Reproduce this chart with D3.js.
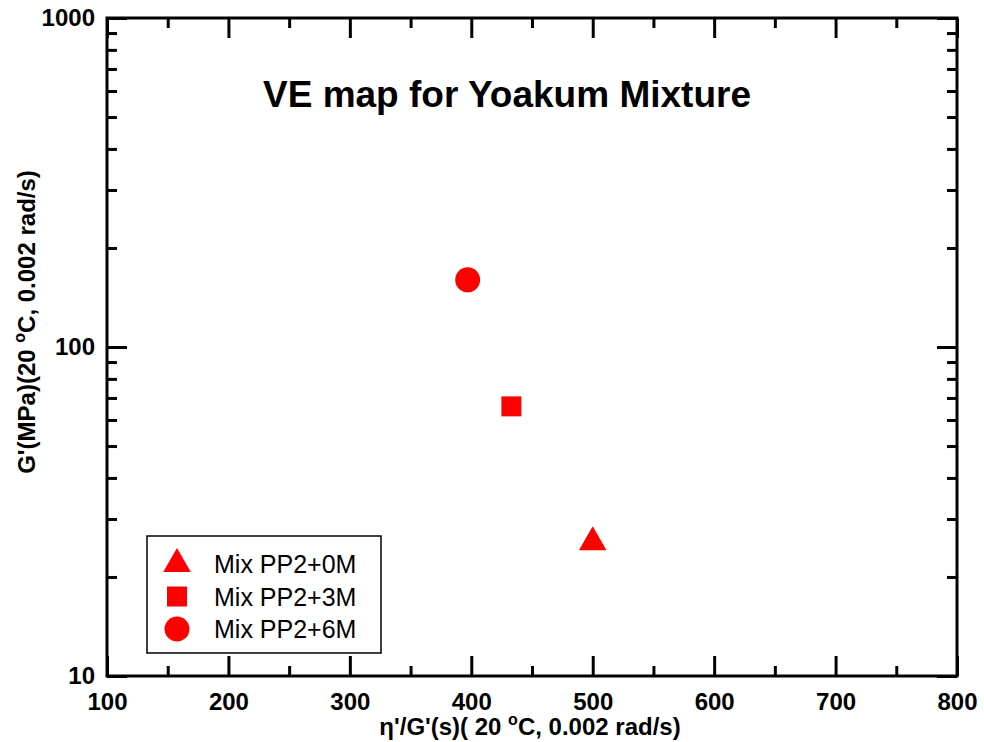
<!DOCTYPE html>
<html>
<head>
<meta charset="utf-8">
<script src="https://cdn.jsdelivr.net/npm/d3@7"></script>
<style>
  body { margin: 0; background: #fff; }
  text { font-family: "Liberation Sans", Arial, sans-serif; }
</style>
</head>
<body>
<div id="chart"></div>
<script>
// data
let series = ["Mix PP2+0M", "Mix PP2+3M", "Mix PP2+6M"];
let relaxTime = [500, 433, 397];      // eta'/G' (s)
let modulus = [25.5, 66, 160];        // G' (MPa)
let xTicks = [100, 200, 300, 400, 500, 600, 700, 800];
let xMinor = [150, 250, 350, 450, 550, 650, 750];
let yTicks = [10, 100, 1000];
let yMinor = [20, 30, 40, 50, 60, 70, 80, 90, 200, 300, 400, 500, 600, 700, 800, 900];

(function () {
    let width = 984, height = 742;
    let m = {left: 107, top: 18, right: 27, bottom: 66};
    let w = width - m.left - m.right, h = height - m.top - m.bottom;
    let svg = d3.select("#chart").append("svg")
        .attr("width", width)
        .attr("height", height);
    let g = svg.append("g").attr("transform", `translate(${m.left},${m.top})`);

    let x = d3.scaleLinear().domain([100, 800]).range([0, w]);
    let y = d3.scaleLog().domain([10, 1000]).range([h, 0]);

    function style(sel, labels) {
        sel.select(".domain").remove();
        sel.selectAll("line").attr("stroke", "#000").attr("stroke-width", 3);
        if (labels) {
            sel.selectAll("text").attr("fill", "#000")
                .attr("font-size", "24px").attr("font-weight", "bold");
        } else {
            sel.selectAll("text").remove();
        }
    }

    // bottom + top
    g.append("g").attr("transform", `translate(0,${h})`)
        .call(d3.axisBottom(x).tickValues(xTicks).tickSize(-20).tickPadding(17).tickFormat(d3.format("d")))
        .call(s => style(s, true));
    g.append("g").attr("transform", `translate(0,${h})`)
        .call(d3.axisBottom(x).tickValues(xMinor).tickSize(-10))
        .call(s => style(s, false));
    g.append("g")
        .call(d3.axisTop(x).tickValues(xTicks).tickSize(-20))
        .call(s => style(s, false));
    g.append("g")
        .call(d3.axisTop(x).tickValues(xMinor).tickSize(-10))
        .call(s => style(s, false));

    // left + right
    g.append("g")
        .call(d3.axisLeft(y).tickValues(yTicks).tickSize(-20).tickPadding(12).tickFormat(d3.format("d")))
        .call(s => style(s, true));
    g.append("g")
        .call(d3.axisLeft(y).tickValues(yMinor).tickSize(-10))
        .call(s => style(s, false));
    g.append("g").attr("transform", `translate(${w},0)`)
        .call(d3.axisRight(y).tickValues(yTicks).tickSize(-20))
        .call(s => style(s, false));
    g.append("g").attr("transform", `translate(${w},0)`)
        .call(d3.axisRight(y).tickValues(yMinor).tickSize(-10))
        .call(s => style(s, false));

    g.append("rect")
        .attr("width", w).attr("height", h)
        .attr("fill", "none").attr("stroke", "#000").attr("stroke-width", 3);

    // markers
    let shapes = [d3.symbolTriangle, d3.symbolSquare, d3.symbolCircle];
    let sizes = [330, 400, 490];
    g.selectAll(".pt").data(series).enter().append("path")
        .attr("class", "pt")
        .attr("transform", (d, i) => `translate(${x(relaxTime[i])},${y(modulus[i])})`)
        .attr("d", (d, i) => d3.symbol().type(shapes[i]).size(sizes[i])())
        .attr("fill", "#ff0000");

    // title
    svg.append("text")
        .attr("x", 507).attr("y", 107)
        .attr("text-anchor", "middle")
        .attr("font-size", "37px").attr("font-weight", "bold")
        .text("VE map for Yoakum Mixture");

    // axis titles
    let xl = svg.append("text")
        .attr("x", 530).attr("y", 735)
        .attr("text-anchor", "middle")
        .attr("font-size", "24px").attr("font-weight", "bold");
    xl.append("tspan").text("\u03b7'/G'(s)( 20 ");
    xl.append("tspan").attr("font-size", "16px").attr("dy", -10).text("o");
    xl.append("tspan").attr("dy", 10).text("C, 0.002 rad/s)");

    let yl = svg.append("text")
        .attr("transform", "translate(35,322) rotate(-90)")
        .attr("text-anchor", "middle")
        .attr("font-size", "24px").attr("font-weight", "bold");
    yl.append("tspan").text("G'(MPa)(20 ");
    yl.append("tspan").attr("font-size", "16px").attr("dy", -10).text("o");
    yl.append("tspan").attr("dy", 10).text("C, 0.002 rad/s)");

    // legend
    let lg = svg.append("g").attr("transform", "translate(147,536)");
    lg.append("rect")
        .attr("width", 234).attr("height", 117)
        .attr("fill", "#fff").attr("stroke", "#000").attr("stroke-width", 1.5);
    let items = lg.selectAll(".item").data(series).enter().append("g")
        .attr("transform", (d, i) => `translate(0,${28 + i * 32.5})`);
    items.append("path")
        .attr("transform", "translate(30,0)")
        .attr("d", (d, i) => d3.symbol().type(shapes[i]).size(sizes[i])())
        .attr("fill", "#ff0000");
    items.append("text")
        .attr("x", 67).attr("y", 9)
        .attr("font-size", "25px")
        .text(d => d);
})()
</script>
</body>
</html>
